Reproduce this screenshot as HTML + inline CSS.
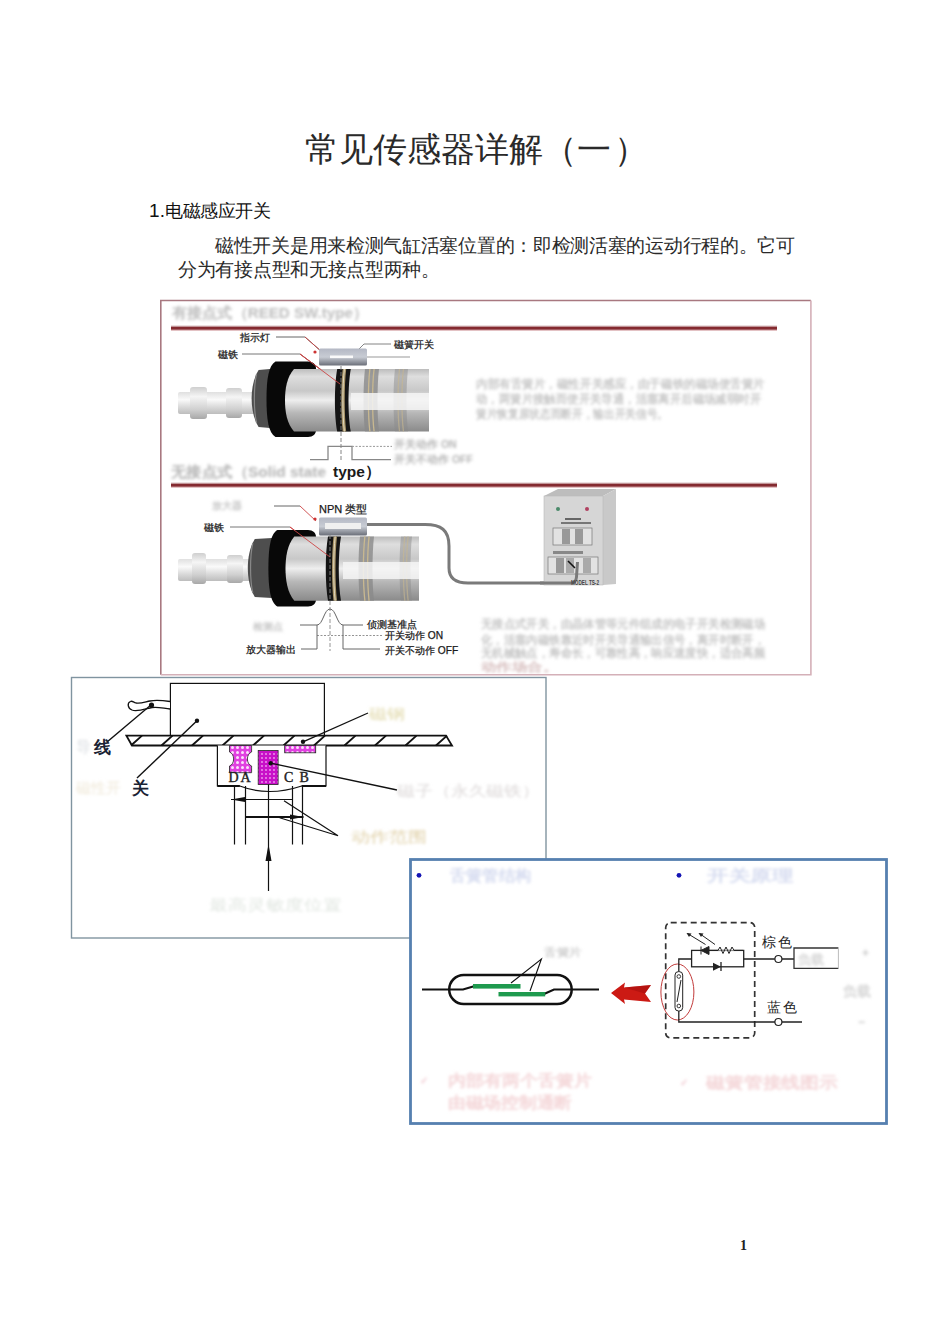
<!DOCTYPE html>
<html><head><meta charset="utf-8">
<style>
html,body{margin:0;padding:0;background:#fff;width:950px;height:1318px;overflow:hidden}
body{position:relative;font-family:"Liberation Serif",serif}
.t{position:absolute;white-space:nowrap;line-height:1}
#title{left:305px;top:133px;font-size:34px;color:#2a2a2a}
#h1{left:149px;top:201px;font-family:"Liberation Sans",sans-serif;font-size:17.5px;letter-spacing:-0.5px;color:#111}
#p1{left:215px;top:237px;font-size:18.5px;letter-spacing:-0.3px;color:#2a2a2a}
#p2{left:178px;top:261px;font-size:18.5px;letter-spacing:-0.3px;color:#2a2a2a}
#pn{left:740px;top:1239px;font-family:"Liberation Serif",serif;font-weight:bold;font-size:14px;color:#222}
svg{position:absolute;left:0;top:0}
</style></head><body>
<div class="t" id="title">常见传感器详解（一<span style="margin-left:3px">）</span></div>
<div class="t" id="h1"><span style="font-size:19px;letter-spacing:0.3px;font-weight:normal">1.</span>电磁感应开关</div>
<div class="t" id="p1">磁性开关是用来检测气缸活塞位置的：即检测活塞的运动行程的。它可</div>
<div class="t" id="p2">分为有接点型和无接点型两种。</div>
<svg width="950" height="1318" viewBox="0 0 950 1318">
<defs>
<filter id="blur1" x="-20%" y="-50%" width="140%" height="200%"><feGaussianBlur stdDeviation="1.7"/></filter>
<filter id="blur2" x="-10%" y="-50%" width="120%" height="200%"><feGaussianBlur stdDeviation="1.8"/></filter>
<linearGradient id="rodg" x1="0" y1="0" x2="0" y2="1">
<stop offset="0" stop-color="#e0e0e0"/><stop offset="0.35" stop-color="#fafafa"/><stop offset="0.7" stop-color="#d8d8d8"/><stop offset="1" stop-color="#bdbdbd"/></linearGradient>
<linearGradient id="nutg" x1="0" y1="0" x2="0" y2="1">
<stop offset="0" stop-color="#cfcfcf"/><stop offset="0.3" stop-color="#f5f5f5"/><stop offset="0.7" stop-color="#d0d0d0"/><stop offset="1" stop-color="#a8a8a8"/></linearGradient>
<linearGradient id="bodyg" x1="0" y1="0" x2="0" y2="1">
<stop offset="0" stop-color="#bdbdbd"/><stop offset="0.12" stop-color="#dedede"/><stop offset="0.35" stop-color="#c8c8c8"/><stop offset="0.5" stop-color="#eeeeee"/><stop offset="0.7" stop-color="#b8b8b8"/><stop offset="1" stop-color="#8a8a8a"/></linearGradient>
<linearGradient id="ringg" x1="0" y1="0" x2="1" y2="0">
<stop offset="0" stop-color="#1a1a1a"/><stop offset="0.3" stop-color="#9a8a60"/><stop offset="0.5" stop-color="#d8d0b8"/><stop offset="0.7" stop-color="#8a7a50"/><stop offset="1" stop-color="#2a2a2a"/></linearGradient>
<linearGradient id="ringg2" x1="0" y1="0" x2="1" y2="0">
<stop offset="0" stop-color="#b8b8b8"/><stop offset="0.25" stop-color="#8a7a50"/><stop offset="0.5" stop-color="#e0e0e0"/><stop offset="0.75" stop-color="#8a7a50"/><stop offset="1" stop-color="#b8b8b8"/></linearGradient>
<linearGradient id="ringg3" x1="0" y1="0" x2="1" y2="0">
<stop offset="0" stop-color="#d0d0d0"/><stop offset="0.3" stop-color="#a89870"/><stop offset="0.6" stop-color="#e8e8e8"/><stop offset="1" stop-color="#c0c0c0"/></linearGradient>
<linearGradient id="sensg" x1="0" y1="0" x2="0" y2="1">
<stop offset="0" stop-color="#b4b8c4"/><stop offset="0.5" stop-color="#c8ccd4"/><stop offset="1" stop-color="#6a6e78"/></linearGradient>
<pattern id="magpat" width="5" height="5" patternUnits="userSpaceOnUse">
<rect width="5" height="5" fill="#e040e0"/><circle cx="2.5" cy="2.5" r="1.5" fill="#fbe0fb"/></pattern>
<pattern id="magpat2" width="4" height="4" patternUnits="userSpaceOnUse">
<rect width="4" height="4" fill="#c810c8"/><circle cx="2" cy="2" r="0.9" fill="#f0a0f0"/></pattern>
</defs>
<g id="img1">
<rect x="160.5" y="300.5" width="650" height="374" fill="#fff"/>
<path d="M160.8 674.7 V300.5 H810.9" fill="none" stroke="#a87880" stroke-width="1.6"/>
<path d="M810.9 300.5 V674.7 H160.8" fill="none" stroke="#d4b0b8" stroke-width="1.6"/>
<!-- blurred headings -->
<g filter="url(#blur1)" fill="#bdbdbd" font-family="Liberation Sans,sans-serif" font-weight="bold" font-size="15">
<text x="172" y="318" textLength="196" lengthAdjust="spacingAndGlyphs">有接点式（REED SW.type）</text>
</g>
<rect x="171" y="326.5" width="606" height="3.4" fill="#842a30"/>
<rect x="171" y="325.7" width="606" height="1" fill="#c09498"/>
<rect x="171" y="329.7" width="606" height="1" fill="#d8a8ab"/>
<rect x="171" y="483.5" width="606" height="3.4" fill="#842a30"/>
<rect x="171" y="482.7" width="606" height="1" fill="#c09498"/>
<rect x="171" y="486.7" width="606" height="1" fill="#d8a8ab"/>
<!-- labels top -->
<g font-family="Liberation Sans,sans-serif" font-size="9.5" fill="#1a1a1a" stroke="#1a1a1a" stroke-width="0.25">
<text x="240" y="341">指示灯</text>
<text x="218" y="358">磁铁</text>
<text x="394" y="348">磁簧开关</text>
</g>
<g fill="none" stroke-width="0.9">
<path d="M276 337 H305 L322 352" stroke="#555"/>
<path d="M242 354 H300 L340 384" stroke="#666"/>
<path d="M391 344 H364 L352 356" stroke="#777"/>
<path d="M305 337 L322 352" stroke="#c44"/>
<path d="M300 354 L340 384" stroke="#c44"/>
</g>
<circle cx="315" cy="352" r="1.6" fill="#c33"/>
<circle cx="351.5" cy="356" r="1.6" fill="#c33"/>
<!-- cylinder 1 -->
<g id="cyl1">
<rect x="178" y="392" width="78.6" height="22" rx="2" fill="url(#rodg)"/>
<rect x="190" y="387" width="17" height="32" rx="3" fill="url(#nutg)"/>
<rect x="226" y="388" width="16" height="30" rx="3" fill="url(#nutg)"/>
<path d="M258.6 370 C253.6 378 251.6 388.5 251.6 398.5 C251.6 408.5 253.6 419 258.6 427 L270 428 L270 369 Z" fill="#4e4e4e"/>
<path d="M256.6 374 C253.6 386.5 253.6 410.5 256.6 423" fill="none" stroke="#888" stroke-width="1.2"/>
<path d="M275.5 361.5 H308 C313 361.5 316 364.5 316 368.5 V430 C316 434 313 437 308 437 H275.5 C268.5 433 266.5 419.25 266.5 399.25 C266.5 379.25 268.5 365.5 275.5 361.5 Z" fill="#080808"/>
<path d="M294 369 H429 V431.5 H294 C287 423.5 285 412.25 285 400.25 C285 388.25 287 377 294 369 Z" fill="url(#bodyg)"/>
<path d="M337.2 369 H350.8 C347.8 385.25 347.8 415.25 350.8 431.5 H337.2 C334.2 415.25 334.2 385.25 337.2 369 Z" fill="#141414"/>
<path d="M342.7 369 C340.7 385.25 340.7 415.25 342.7 431.5 L346.2 431.5 C344.2 415.25 344.2 385.25 346.2 369 Z" fill="#a89468"/>
<path d="M344.4 369 C342.4 385.25 342.4 415.25 344.4 431.5" fill="none" stroke="#e8e0c8" stroke-width="0.9"/>
<path d="M365 369 H379 C377 385.25 377 415.25 379 431.5 H365 C363 415.25 363 385.25 365 369 Z" fill="#8a8a8a" opacity="0.8"/>
<path d="M369.9 369 C367.9 385.25 367.9 415.25 369.9 431.5 M374.1 369 C372.1 385.25 372.1 415.25 374.1 431.5" fill="none" stroke="#c8b890" stroke-width="1.3" opacity="1"/>
<path d="M395 369 H408 C406 385.25 406 415.25 408 431.5 H395 C393 415.25 393 385.25 395 369 Z" fill="#8a8a8a" opacity="0.48"/>
<path d="M399.55 369 C397.55 385.25 397.55 415.25 399.55 431.5 M403.45 369 C401.45 385.25 401.45 415.25 403.45 431.5" fill="none" stroke="#c8b890" stroke-width="1.3" opacity="0.6"/>
<rect x="351" y="393" width="78" height="17" fill="#f4f4f4" opacity="0.85"/>
</g>
<!-- sensor 1 -->
<rect x="319" y="348.5" width="48" height="17" rx="1.5" fill="url(#sensg)"/>
<rect x="330" y="355.5" width="23" height="2.6" fill="#fafafa"/>
<path d="M367 357 H410" stroke="#bbb" stroke-width="1.6"/>
<path d="M300 354 L340 384" stroke="#c44" stroke-width="0.9" fill="none"/>
<!-- dashed vertical -->
<path d="M341 366 V462" stroke="#777" stroke-width="0.9" stroke-dasharray="4 2"/>
<!-- pulse -->
<path d="M310 459.6 H328 V446.4 H352 V459.6 H391" fill="none" stroke="#888" stroke-width="1.3"/>
<path d="M352 446.4 H392" fill="none" stroke="#999" stroke-width="1" stroke-dasharray="2 1.5"/>
<g filter="url(#blur1)" fill="#b4b4b4" font-family="Liberation Sans,sans-serif" font-size="10.5" font-weight="bold">
<text x="394" y="448">开关动作 ON</text>
<text x="394" y="463">开关不动作 OFF</text>
<text x="171" y="477" font-size="15" textLength="155" lengthAdjust="spacingAndGlyphs">无接点式（Solid state</text>
</g>
<text x="333" y="477" font-family="Liberation Sans,sans-serif" font-weight="bold" font-size="15.5" fill="#1a1a1a">type）</text>
<!-- right blurred paragraph -->
<g filter="url(#blur2)" fill="#c6c6c6" font-family="Liberation Sans,sans-serif" font-size="11.5" font-weight="bold">
<text x="476" y="388" textLength="289" lengthAdjust="spacingAndGlyphs">内部有舌簧片，磁性开关感应，由于磁铁的磁场使舌簧片</text>
<text x="476" y="403" textLength="285" lengthAdjust="spacingAndGlyphs">动，两簧片接触而使开关导通，活塞离开后磁场减弱时开</text>
<text x="476" y="418" textLength="192" lengthAdjust="spacingAndGlyphs">簧片恢复原状态而断开，输出开关信号。</text>
</g>
</g>
<g id="img1b">
<g filter="url(#blur1)" fill="#c8c8c8" font-family="Liberation Sans,sans-serif" font-size="10" font-weight="bold">
<text x="212" y="509">放大器</text>
<text x="253" y="630">检测点</text>
</g>
<g font-family="Liberation Sans,sans-serif" font-size="10" fill="#1a1a1a" stroke="#1a1a1a" stroke-width="0.25">
<text x="319" y="513" font-size="11">NPN 类型</text>
<text x="204" y="531">磁铁</text>
<text x="246" y="653" font-size="10.2">放大器输出</text>
<text x="367" y="628" font-size="10.2">侦测基准点</text>
<text x="385" y="639" font-size="10.2">开关动作 ON</text>
<text x="385" y="654" font-size="10.2">开关不动作 OFF</text>
</g>
<g fill="none" stroke-width="0.9">
<path d="M274 506 H300" stroke="#555"/>
<path d="M300 506 L316 521" stroke="#c44"/>
<path d="M230 527 H290" stroke="#666"/>
<path d="M290 527 L330 557" stroke="#c44"/>
</g>
<circle cx="315" cy="519" r="1.6" fill="#c33"/>
<!-- cable -->
<path d="M367 524.5 H425 C441 524.5 449 530 449 546 V568 C449 578 455 583 468 583 H572" fill="none" stroke="#7a7a7a" stroke-width="3"/>
<!-- cylinder 2 -->
<g id="cyl2">
<rect x="178" y="559" width="74.80000000000001" height="22" rx="2" fill="url(#rodg)"/>
<rect x="192" y="553" width="14" height="31" rx="3" fill="url(#nutg)"/>
<rect x="227" y="555" width="16" height="28" rx="3" fill="url(#nutg)"/>
<path d="M254.8 539 C249.8 547 247.8 558.0 247.8 568.0 C247.8 578.0 249.8 589 254.8 597 L272 598 L272 538 Z" fill="#4e4e4e"/>
<path d="M252.8 543 C249.8 556.0 249.8 580.0 252.8 593" fill="none" stroke="#888" stroke-width="1.2"/>
<path d="M277.4 530 H308 C313 530 316 533 316 537 V599.5 C316 603.5 313 606.5 308 606.5 H277.4 C270.4 602.5 268.4 588.25 268.4 568.25 C268.4 548.25 270.4 534 277.4 530 Z" fill="#080808"/>
<path d="M294.3 536.4 H419 V600.8 H294.3 C287.5 592.8 285.5 580.5999999999999 285.5 568.5999999999999 C285.5 556.5999999999999 287.5 544.4 294.3 536.4 Z" fill="url(#bodyg)"/>
<path d="M328 536.4 H341 C338 553.5999999999999 338 583.5999999999999 341 600.8 H328 C325 583.5999999999999 325 553.5999999999999 328 536.4 Z" fill="#141414"/>
<path d="M333.5 536.4 C331.5 553.5999999999999 331.5 583.5999999999999 333.5 600.8 L337 600.8 C335 583.5999999999999 335 553.5999999999999 337 536.4 Z" fill="#a89468"/>
<path d="M335.2 536.4 C333.2 553.5999999999999 333.2 583.5999999999999 335.2 600.8" fill="none" stroke="#e8e0c8" stroke-width="0.9"/>
<path d="M360 536.4 H374 C372 553.5999999999999 372 583.5999999999999 374 600.8 H360 C358 583.5999999999999 358 553.5999999999999 360 536.4 Z" fill="#8a8a8a" opacity="0.8"/>
<path d="M364.9 536.4 C362.9 553.5999999999999 362.9 583.5999999999999 364.9 600.8 M369.1 536.4 C367.1 553.5999999999999 367.1 583.5999999999999 369.1 600.8" fill="none" stroke="#c8b890" stroke-width="1.3" opacity="1"/>
<path d="M401 536.4 H412 C410 553.5999999999999 410 583.5999999999999 412 600.8 H401 C399 583.5999999999999 399 553.5999999999999 401 536.4 Z" fill="#8a8a8a" opacity="0.48"/>
<path d="M404.85 536.4 C402.85 553.5999999999999 402.85 583.5999999999999 404.85 600.8 M408.15 536.4 C406.15 553.5999999999999 406.15 583.5999999999999 408.15 600.8" fill="none" stroke="#c8b890" stroke-width="1.3" opacity="0.6"/>
<rect x="343" y="562" width="76" height="17" fill="#f4f4f4" opacity="0.85"/>
</g>
<rect x="319" y="517.5" width="48" height="18" rx="1.5" fill="url(#sensg)"/>
<rect x="325" y="523" width="36" height="6" fill="#f0f0f0"/>
<path d="M290 527 L330 557" stroke="#c44" stroke-width="0.9" fill="none"/>
<path d="M330 535 V651" stroke="#888" stroke-width="0.9" stroke-dasharray="4 2"/>
<!-- waveform 2 -->
<path d="M300 625 H317 C323 625 324 609 330 609 C336 609 337 625 343 625 H363" fill="none" stroke="#666" stroke-width="1"/>
<path d="M317 635.5 H383" fill="none" stroke="#888" stroke-width="0.9" stroke-dasharray="2 1.5"/>
<path d="M301 649 H317 V625 M343 625 V649 H380" fill="none" stroke="#666" stroke-width="1"/>
<!-- control box -->
<g id="box">
<path d="M544 496 L558 489 L616 489 L603 496 Z" fill="#bdbdbd"/>
<path d="M603 496 L616 489 L616 584 L603 585 Z" fill="#c9c9c9"/>
<rect x="544" y="496" width="59" height="89" fill="#d6d6d6" stroke="#b8b8b8" stroke-width="0.6"/>
<circle cx="558" cy="509" r="2" fill="#4a8a6a"/>
<circle cx="587" cy="509" r="2" fill="#b04060"/>
<rect x="565" y="518" width="16" height="2" fill="#666"/>
<rect x="561" y="522" width="30" height="2" fill="#777"/>
<rect x="553" y="528" width="39" height="17" fill="#e2e2e2" stroke="#777" stroke-width="0.7"/>
<rect x="562" y="529" width="8" height="15" fill="#999"/>
<rect x="575" y="529" width="8" height="15" fill="#999"/>
<rect x="548" y="557" width="50" height="17" fill="#e2e2e2" stroke="#777" stroke-width="0.7"/>
<rect x="556" y="558" width="8" height="15" fill="#999"/>
<rect x="566" y="558" width="8" height="15" fill="#aaa"/>
<rect x="583" y="558" width="8" height="15" fill="#aaa"/>
<rect x="553" y="551" width="30" height="3" fill="#888"/>
<path d="M568 561 L575 568" stroke="#111" stroke-width="1.6"/>
<path d="M540 583 H571 Q576 583 576.5 577 L577.5 562" fill="none" stroke="#7a7a7a" stroke-width="3"/>
<text x="571" y="585" font-family="Liberation Sans,sans-serif" font-weight="bold" font-size="6.5" fill="#444" textLength="28" lengthAdjust="spacingAndGlyphs">MODEL TS-2</text>
</g>
<g filter="url(#blur2)" fill="#c6c6c6" font-family="Liberation Sans,sans-serif" font-size="11.5" font-weight="bold">
<text x="481" y="628" textLength="284" lengthAdjust="spacingAndGlyphs">无接点式开关，由晶体管等元件组成的电子开关检测磁场</text>
<text x="481" y="644" textLength="284" lengthAdjust="spacingAndGlyphs">化，活塞内磁铁靠近时开关导通输出信号，离开时断开，</text>
<text x="481" y="657" textLength="284" lengthAdjust="spacingAndGlyphs">无机械触点，寿命长，可靠性高，响应速度快，适合高频</text>
<text x="481" y="671" textLength="77" lengthAdjust="spacingAndGlyphs" fill="#d8c0c0">动作场合。</text>
</g>
</g>
<g id="img2">
<rect x="71.5" y="677.5" width="474.5" height="260.5" fill="#fff" stroke="#8094a0" stroke-width="1.4"/>
<rect x="170.4" y="683.4" width="154" height="52.2" fill="#fff" stroke="#111" stroke-width="1.2"/>
<path d="M126.4 735.6 H446 L452 745.5 H132 Z" fill="#fff" stroke="#111" stroke-width="1.8"/>
<path d="M131.0 745.5 L142.0 735.6 M161.5 745.5 L172.5 735.6 M192.0 745.5 L203.0 735.6 M222.5 745.5 L233.5 735.6 M253.0 745.5 L264.0 735.6 M283.5 745.5 L294.5 735.6 M314.0 745.5 L325.0 735.6 M344.5 745.5 L355.5 735.6 M375.0 745.5 L386.0 735.6 M405.5 745.5 L416.5 735.6 M436.0 745.5 L447.0 735.6 " stroke="#111" stroke-width="1.9" fill="none"/>
<path d="M170 701.5 C163 700.5 155 700 150 701 C145 702 140 704 136 703 C133 702 132 700.5 130.5 701.5 C127 703 127.5 708 132 710 C137 712 145 709 152 707.5 C158 706.5 164 708.5 170 709" fill="#fff" stroke="#111" stroke-width="1.3"/>
<circle cx="151.5" cy="705" r="2.6" fill="#111"/>
<path d="M151.5 704.5 L107 742" stroke="#111" stroke-width="1.4"/>
<circle cx="197" cy="720.8" r="2.2" fill="#111"/>
<path d="M197 720.8 L137 778" stroke="#111" stroke-width="1.4"/>
<!-- housing -->
<path d="M217.4 745.5 V786 H239.8 Q268.5 797 301.7 786 H326 V745.5" fill="#fff" stroke="#111" stroke-width="1.2"/>
<path d="M217.4 786 H239.8 M301.7 786 H326" stroke="#111" stroke-width="2"/>
<path d="M234.5 786 V844.5 M245.5 786 V844.5 M292.5 786 V844.5 M302.5 786 V844.5" stroke="#111" stroke-width="1.2"/>
<path d="M268.5 762 V891" stroke="#111" stroke-width="1.2"/>
<path d="M268.5 844 L265.5 861 H271.5 Z" fill="#111"/>
<path d="M231 799.5 H292.5" stroke="#111" stroke-width="1.2"/>
<path d="M231 799.5 L245 797 V802 Z" fill="#111"/>
<path d="M245.5 817 H303.5" stroke="#111" stroke-width="1.8"/>
<path d="M303.5 817 L290 814.5 V819.5 Z" fill="#111"/>
<path d="M284 800.7 L338 835.8 L279.6 817.7" fill="none" stroke="#111" stroke-width="1.2"/>
<!-- magenta pieces -->
<path d="M229.5 745.5 H251.6 V752 C246 754 246 764 251.6 766 V772.7 H229.5 V766 C235 764 235 754 229.5 752 Z" fill="url(#magpat)" stroke="#222" stroke-width="0.8"/>
<rect x="258.2" y="750.6" width="19.9" height="33.9" fill="url(#magpat2)" stroke="#222" stroke-width="0.8"/>
<rect x="284.7" y="745.5" width="31" height="7.3" fill="url(#magpat)" stroke="#222" stroke-width="0.8"/>
<circle cx="270.7" cy="763.2" r="2.2" fill="#111"/>
<path d="M270.7 763.2 L397 790" stroke="#111" stroke-width="1.3"/>
<circle cx="303" cy="741.8" r="2.2" fill="#111"/>
<path d="M303 741.8 L368 713" stroke="#111" stroke-width="1.3"/>
<g font-family="Liberation Serif,serif" font-size="14" fill="#222" stroke="#222" stroke-width="0.4">
<text x="228.5" y="781.5">D</text><text x="240.5" y="781.5">A</text>
<text x="284" y="781.5">C</text><text x="299.5" y="781.5">B</text>
</g>
<text x="94" y="753" font-size="17" font-weight="bold" fill="#1a2233" font-family="Liberation Serif,serif">线</text>
<text x="132" y="794" font-size="16.5" font-weight="bold" fill="#1a2233" font-family="Liberation Serif,serif">关</text>
<g filter="url(#blur1)" font-size="15" font-family="Liberation Serif,serif">
<text x="76" y="752" fill="#d8dce0">导</text>
<text x="76" y="793" fill="#efe8d8">磁性开</text>
<text x="369" y="719" fill="#e0d8a8" textLength="36" lengthAdjust="spacingAndGlyphs">磁钢</text>
<text x="397" y="796" fill="#dcd8d8" textLength="143" lengthAdjust="spacingAndGlyphs">磁子（永久磁铁）</text>
<text x="351" y="842" fill="#e0d0a8" textLength="76" lengthAdjust="spacingAndGlyphs">动作范围</text>
<text x="209" y="910" fill="#e0e6e0" textLength="133" lengthAdjust="spacingAndGlyphs">最高灵敏度位置</text>
</g>
</g><g id="img3">
<rect x="410.5" y="859.5" width="476" height="264" fill="#fff" stroke="#5680b0" stroke-width="2.8"/>
<circle cx="419" cy="875.3" r="2.4" fill="#1414b4"/>
<circle cx="679" cy="875.3" r="2.4" fill="#1414b4"/>
<g filter="url(#blur1)" font-family="Liberation Sans,sans-serif" font-size="16" font-weight="bold">
<text x="450" y="881" fill="#d6dcf0" textLength="81" lengthAdjust="spacingAndGlyphs">舌簧管结构</text>
<text x="707" y="881" fill="#d6dcf0" textLength="86" lengthAdjust="spacingAndGlyphs">开关原理</text>
<text x="544" y="956" fill="#d0d0d0" font-size="11" textLength="38" lengthAdjust="spacingAndGlyphs">舌簧片</text>
<text x="448" y="1086" fill="#f4d6d8" textLength="144" lengthAdjust="spacingAndGlyphs">内部有两个舌簧片</text>
<text x="448" y="1108" fill="#f4d6d8" textLength="124" lengthAdjust="spacingAndGlyphs">由磁场控制通断</text>
<text x="706" y="1088" fill="#f4d6d8" textLength="132" lengthAdjust="spacingAndGlyphs">磁簧管接线图示</text>
<text x="420" y="1084" fill="#f0c8d0" font-size="10">✓</text>
<text x="680" y="1086" fill="#f0c8d0" font-size="10">✓</text>
<text x="798" y="964" fill="#d8d8d8" font-size="13">负载</text>
<text x="843" y="996" fill="#d8d8d8" font-size="14">负载</text>
<text x="862" y="957" fill="#c8c8c8" font-size="12">+</text>
<text x="858" y="1026" fill="#c8c8c8" font-size="12">−</text>
</g>
<!-- reed capsule -->
<rect x="449.2" y="975" width="122.5" height="29" rx="14.5" fill="none" stroke="#111" stroke-width="2.5"/>
<path d="M422 989.5 H463 L474 986.3 M544 994 L554 989.5 H599" fill="none" stroke="#111" stroke-width="2.2"/>
<rect x="473" y="984" width="47.5" height="4.6" fill="#1e9a4e"/>
<rect x="498.5" y="992" width="46.7" height="4.4" fill="#1e9a4e"/>
<path d="M511 983 L541.4 959 L530 991" fill="none" stroke="#111" stroke-width="1.1"/>
<!-- red arrows -->
<path d="M611 993 L625 982.5 L624 987.5 L651 985 L645 993.5 L651 1002 L624 999.5 L625 1004 Z" fill="#cc1a14"/>
<path d="M624 987.5 L651 985 L645 993.5 Z" fill="#a00c0c" opacity="0.5"/>
<!-- circuit -->
<rect x="665.7" y="922.6" width="89" height="115.3" rx="5" fill="none" stroke="#333" stroke-width="1.7" stroke-dasharray="6 4"/>
<ellipse cx="677.4" cy="992" rx="16.5" ry="28" fill="none" stroke="#c23a3a" stroke-width="1"/>
<rect x="675" y="971.6" width="7.7" height="39.4" rx="3.5" fill="#fff" stroke="#222" stroke-width="1"/>
<circle cx="678.8" cy="976.5" r="1.8" fill="none" stroke="#222" stroke-width="0.9"/>
<circle cx="678.8" cy="1006" r="1.8" fill="none" stroke="#222" stroke-width="0.9"/>
<path d="M681 980 L677 1002" stroke="#222" stroke-width="1"/>
<path d="M678.8 971.6 V959 H691.6 M678.8 1011 V1022 H775" fill="none" stroke="#222" stroke-width="1.3"/>
<rect x="691.6" y="950.4" width="52.1" height="16.4" fill="none" stroke="#222" stroke-width="1.3"/>
<!-- LED -->
<path d="M701 946.5 V954.5 M701 950.4 L709 946.5 V954.5 Z" fill="#222" stroke="#222" stroke-width="1"/>
<path d="M707 950.4 H718 L720 947 L723 953.5 L726 947 L729 953.5 L732 947 L734 950.4 H743" fill="#fff" stroke="#222" stroke-width="1"/>
<path d="M705.5 944.5 L687.5 933.5 M715 944.5 L699.5 933.5" stroke="#222" stroke-width="1"/>
<path d="M686.5 933 L691.5 933.5 L689 937 Z M698.5 933 L703.5 933.5 L701 937 Z" fill="#222"/>
<!-- diode -->
<path d="M713 962.8 L721 966.8 L713 970.8 Z" fill="#222"/>
<path d="M721 962 V971" stroke="#222" stroke-width="1.3"/>
<path d="M743.7 959 H774.9 M782 959 H794 M782 1022 H802" fill="none" stroke="#222" stroke-width="1.3"/>
<circle cx="778.4" cy="959" r="3.5" fill="#fff" stroke="#222" stroke-width="1.2"/>
<circle cx="778.4" cy="1022" r="3.5" fill="#fff" stroke="#222" stroke-width="1.2"/>
<path d="M838.4 948 H794 V968.4 H838.4" fill="none" stroke="#333" stroke-width="1.3"/>
<path d="M838.4 948 V968.4" stroke="#bbb" stroke-width="1"/>
<g font-family="Liberation Serif,serif" font-size="14" fill="#222">
<text x="762" y="947" letter-spacing="1.5">棕色</text>
<text x="767" y="1012" letter-spacing="1.5">蓝色</text>
</g>
</g>

</svg>
<div class="t" id="pn">1</div>
</body></html>
